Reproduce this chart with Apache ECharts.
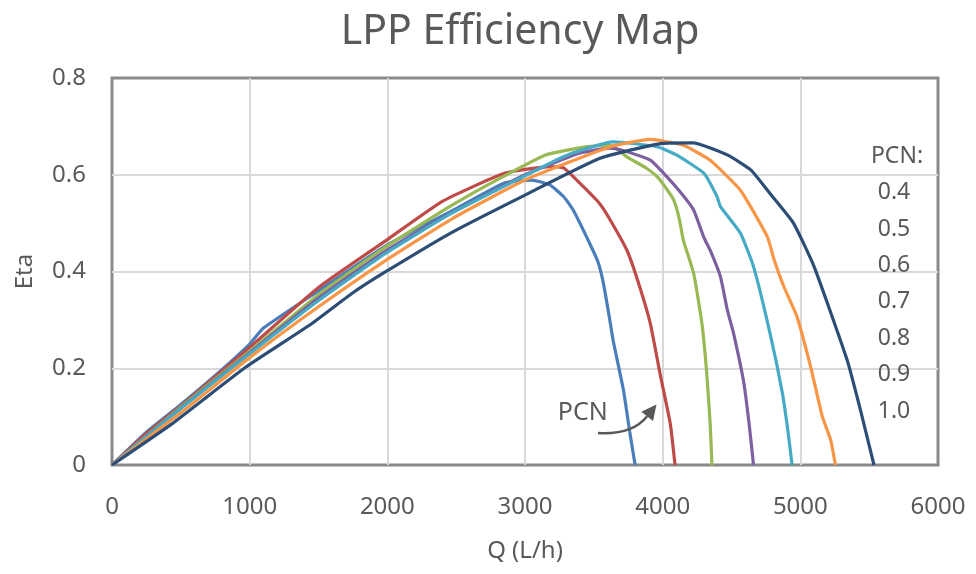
<!DOCTYPE html>
<html>
<head>
<meta charset="utf-8">
<script src="https://cdn.jsdelivr.net/npm/echarts@6/dist/echarts.min.js"></script>
<style>html,body{margin:0;padding:0;background:#fff}#c{width:976px;height:574px}</style>
</head>
<body>
<div id="c"></div>
<script>
// PCN levels (legend labels)
var pcnLabels = ['0.4', '0.5', '0.6', '0.7', '0.8', '0.9', '1.0'];
var seriesColors = ['#4a7ebb', '#be4b48', '#98b954', '#7d60a0', '#46aac5', '#f79646', '#2c4d75'];

// [Q (L/h), Eta]
var pcn04 = [[0,0],[250,0.068],[500,0.125],[750,0.185],[1000,0.25],[1100,0.283],[1500,0.36],[2000,0.455],[2500,0.53],[2850,0.583],[3050,0.589],[3180,0.579],[3280,0.555],[3350,0.527],[3470,0.458],[3530,0.42],[3570,0.375],[3610,0.31],[3640,0.258],[3715,0.155],[3760,0.07],[3800,0]];
var pcn05 = [[0,0],[250,0.065],[500,0.122],[1000,0.243],[1500,0.367],[2000,0.466],[2400,0.545],[2850,0.603],[3180,0.617],[3280,0.614],[3400,0.582],[3540,0.541],[3620,0.506],[3740,0.444],[3810,0.389],[3910,0.293],[3980,0.19],[4055,0.086],[4090,0]];
var pcn06 = [[0,0],[500,0.12],[1000,0.235],[1500,0.352],[2000,0.453],[2470,0.537],[2800,0.59],[3150,0.641],[3450,0.658],[3620,0.661],[3740,0.637],[3880,0.614],[3960,0.596],[4030,0.57],[4080,0.548],[4120,0.51],[4150,0.465],[4225,0.396],[4285,0.293],[4320,0.19],[4345,0.086],[4358,0]];
var pcn07 = [[0,0],[500,0.118],[1000,0.232],[1500,0.345],[2000,0.445],[2470,0.522],[3000,0.6],[3400,0.645],[3620,0.655],[3700,0.651],[3910,0.63],[4030,0.596],[4140,0.56],[4225,0.527],[4300,0.47],[4345,0.444],[4420,0.389],[4470,0.32],[4515,0.272],[4590,0.169],[4630,0.08],[4660,0]];
var pcn08 = [[0,0],[500,0.117],[1000,0.23],[1500,0.34],[2000,0.44],[2470,0.521],[3000,0.598],[3300,0.64],[3640,0.668],[3960,0.658],[4100,0.641],[4300,0.603],[4395,0.555],[4420,0.534],[4565,0.479],[4660,0.41],[4780,0.272],[4870,0.148],[4910,0.07],[4940,0]];
var pcn09 = [[0,0],[500,0.108],[1000,0.222],[1500,0.327],[2000,0.425],[2470,0.509],[3000,0.589],[3620,0.658],[3910,0.673],[4150,0.661],[4345,0.63],[4565,0.568],[4760,0.472],[4810,0.424],[4880,0.369],[4975,0.307],[5075,0.203],[5160,0.1],[5220,0.052],[5255,0]];
var pcn10 = [[0,0],[435,0.085],[970,0.202],[1450,0.292],[1740,0.354],[1985,0.399],[2470,0.481],[3000,0.558],[3545,0.634],[4000,0.665],[4220,0.666],[4470,0.641],[4640,0.61],[4780,0.561],[4950,0.5],[5100,0.41],[5340,0.217],[5440,0.11],[5535,0]];
var allSeries = [pcn04, pcn05, pcn06, pcn07, pcn08, pcn09, pcn10];

// annotation anchor points in data coordinates
var pcnNoteText = [3420, 0.108];
var arrowStart = [3530, 0.066];
var arrowCtrl = [3780, 0.062];
var arrowEnd = [3955, 0.125];

var font = '"Noto Sans", "Open Sans", sans-serif';
var textColor = '#595959';

var chart = echarts.init(document.getElementById('c'));
var series = allSeries.map(function (d, i) {
  return {
    name: pcnLabels[i], type: 'line', data: d, showSymbol: false, symbol: 'none',
    smooth: 0.15,
    lineStyle: { width: 3.2, color: seriesColors[i] }, itemStyle: { color: seriesColors[i] },
    z: 3 + i, animation: false
  };
});

chart.setOption({
  animation: false,
  title: {
    text: 'LPP Efficiency Map', left: 515, textAlign: 'center', top: 7,
    textStyle: { fontFamily: font, fontSize: 41, fontWeight: 'normal', color: textColor }
  },
  grid: { left: 112, right: 38, top: 78, bottom: 109, show: true, borderColor: '#8a8a8a', borderWidth: 3, backgroundColor: 'transparent' },
  xAxis: {
    type: 'value', min: 0, max: 6000, interval: 1000,
    name: 'Q (L/h)', nameLocation: 'middle', nameGap: 74,
    nameTextStyle: { fontFamily: font, fontSize: 24, color: textColor },
    axisLine: { show: false }, axisTick: { show: false },
    axisLabel: { fontFamily: font, fontSize: 24, color: textColor, margin: 30,
      formatter: function (v) { return String(v); } },
    splitLine: { showMinLine: false, showMaxLine: false, lineStyle: { color: '#d9d9d9', width: 2 } }
  },
  yAxis: {
    type: 'value', min: 0, max: 0.8, interval: 0.2,
    name: 'Eta', nameLocation: 'middle', nameGap: 75, nameRotate: 90,
    nameTextStyle: { fontFamily: font, fontSize: 24, color: textColor },
    axisLine: { show: false }, axisTick: { show: false },
    axisLabel: { fontFamily: font, fontSize: 24, color: textColor, margin: 26,
      formatter: function (v) { return v === 0 ? '0' : v.toFixed(1); } },
    splitLine: { showMinLine: false, showMaxLine: false, lineStyle: { color: '#d9d9d9', width: 2 } }
  },
  series: series
});

function px(p) { return chart.convertToPixel({ gridIndex: 0 }, p); }
var gridRight = px([6000, 0])[0];
var legendX = gridRight - 44;
var legendTop = px([0, 0.6])[1] + 2;
var graphics = [{
  type: 'text', x: legendX + 3, y: legendTop - 20,
  style: { text: 'PCN:', fontFamily: font, fontSize: 23, fill: textColor, align: 'center', verticalAlign: 'middle' }, z: 20
}];
pcnLabels.forEach(function (t, i) {
  graphics.push({
    type: 'text', x: legendX, y: legendTop + 16 + i * 36.4,
    style: { text: t, fontFamily: font, fontSize: 23, fill: textColor, align: 'center', verticalAlign: 'middle' }, z: 20
  });
});
var nt = px(pcnNoteText), a0 = px(arrowStart), ac = px(arrowCtrl), a1 = px(arrowEnd);
graphics.push({
  type: 'text', x: nt[0], y: nt[1],
  style: { text: 'PCN', fontFamily: font, fontSize: 25, fill: textColor, align: 'center', verticalAlign: 'middle' }, z: 20
});
var ang = Math.atan2(a1[1] - ac[1], a1[0] - ac[0]);
var L = 15, W = 7.5;
var bx = a1[0] - L * Math.cos(ang), by = a1[1] - L * Math.sin(ang);
graphics.push({
  type: 'bezierCurve',
  shape: { x1: a0[0], y1: a0[1], cpx1: ac[0], cpy1: ac[1], x2: bx, y2: by },
  style: { stroke: '#595959', lineWidth: 2.5, fill: null }, z: 20
});
graphics.push({
  type: 'polygon',
  shape: { points: [[a1[0], a1[1]], [bx + W * Math.sin(ang), by - W * Math.cos(ang)], [bx - W * Math.sin(ang), by + W * Math.cos(ang)]] },
  style: { fill: '#595959' }, z: 20
});
chart.setOption({ graphic: graphics });
</script>
</body>
</html>
